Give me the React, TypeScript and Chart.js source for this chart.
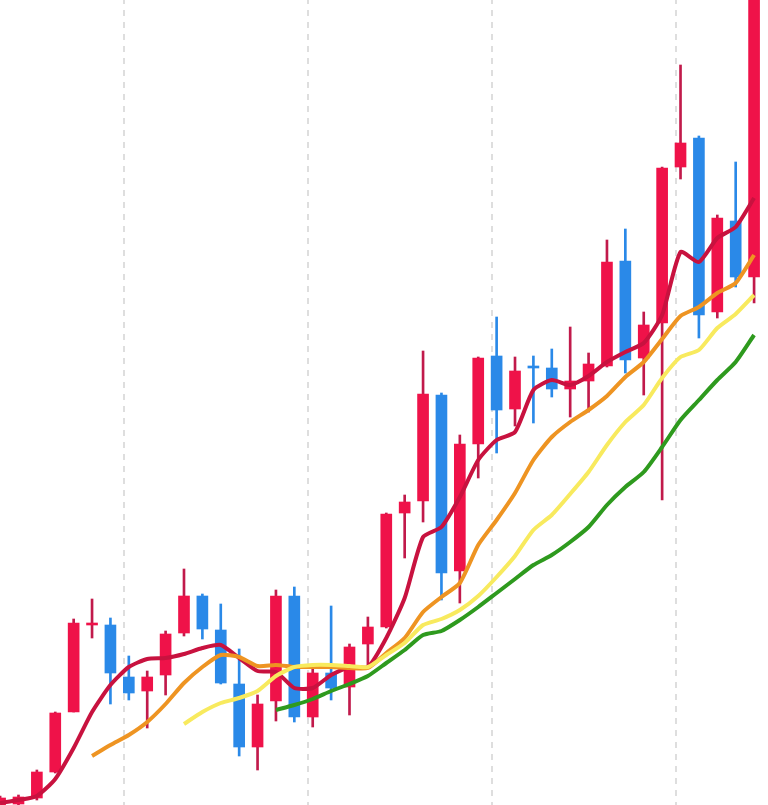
import { useEffect, useRef } from "react";
import { Chart, registerables } from "chart.js";

Chart.register(...registerables);

// Candle data (index = trading day in view)
const OPEN = [9.9, 10.1, 10.7, 13.3, 19.3, 28.0, 28.0, 22.8, 21.4, 23.0, 27.2, 30.9, 27.5, 22.1, 15.8, 20.4, 30.9, 18.8, 23.2, 21.8, 26.1, 27.8, 39.2, 40.4, 51.0, 33.4, 46.1, 54.9, 49.6, 53.9, 53.7, 51.6, 52.4, 53.9, 64.4, 54.7, 58.2, 73.8, 76.7, 59.3, 68.4, 62.8];
const HIGH = [10.9, 11.0, 13.5, 19.3, 28.6, 30.6, 28.7, 24.9, 23.4, 27.4, 33.6, 31.1, 30.1, 25.6, 21.0, 31.5, 31.8, 23.6, 29.9, 26.1, 28.8, 39.2, 41.0, 55.4, 51.2, 47.0, 54.8, 58.8, 54.8, 54.9, 55.6, 57.8, 55.2, 66.5, 67.6, 59.3, 73.8, 84.0, 76.9, 69.0, 74.3, 92.5];
const LOW = [9.8, 10.0, 10.5, 13.2, 19.3, 26.7, 20.1, 20.5, 17.7, 21.0, 26.9, 26.6, 22.1, 14.9, 13.5, 18.4, 18.3, 17.8, 20.5, 19.0, 23.8, 27.7, 34.7, 38.3, 30.5, 30.2, 42.7, 45.2, 47.9, 48.2, 50.8, 48.8, 49.3, 53.8, 53.2, 51.0, 40.5, 72.6, 56.7, 58.7, 61.8, 60.2];
const CLOSE = [10.7, 10.8, 13.3, 19.2, 28.2, 28.2, 23.2, 21.2, 22.8, 27.1, 30.9, 27.6, 22.2, 15.8, 20.1, 30.9, 18.8, 23.2, 21.7, 25.8, 27.8, 39.1, 40.3, 51.1, 33.2, 46.1, 54.7, 49.5, 53.4, 53.7, 51.6, 52.4, 54.1, 64.3, 54.5, 58.0, 73.7, 76.2, 59.0, 68.7, 62.8, 91.5];

// Moving averages (first value belongs to the start index)
const MA5_START = 0;
const MA5 = [10.2, 10.5, 10.9, 12.6, 15.7, 19.3, 22.0, 23.8, 24.6, 24.7, 25.1, 25.7, 26.0, 24.7, 23.4, 23.3, 21.7, 21.7, 23.0, 23.8, 23.8, 26.7, 30.7, 36.8, 37.8, 40.8, 44.5, 46.5, 47.3, 51.5, 52.5, 52.0, 52.9, 54.3, 55.3, 56.2, 59.0, 65.3, 64.3, 66.7, 67.8, 70.7];
const MA10_START = 5;
const MA10 = [14.9, 16.0, 17.0, 18.3, 20.1, 22.2, 23.8, 25.0, 24.8, 23.9, 24.0, 23.8, 23.8, 23.8, 23.7, 23.7, 25.2, 26.7, 29.3, 30.8, 32.2, 36.0, 38.5, 41.2, 44.5, 46.8, 48.3, 49.5, 50.9, 52.8, 54.3, 56.6, 58.9, 59.8, 61.2, 62.2, 65.0];
const MA15_START = 10;
const MA15 = [18.1, 19.3, 20.2, 20.7, 21.4, 22.9, 23.8, 24.0, 24.0, 23.9, 23.8, 25.0, 26.2, 28.0, 28.6, 29.5, 30.9, 32.8, 34.9, 37.5, 39.0, 41.1, 43.3, 46.0, 48.3, 50.0, 52.7, 54.8, 55.5, 57.7, 59.1, 61.0];
const MA20_START = 15;
const MA20 = [19.5, 20.0, 20.6, 21.4, 22.1, 22.9, 24.2, 25.5, 27.0, 27.4, 28.5, 29.8, 31.2, 32.6, 34.0, 35.0, 36.3, 37.8, 40.0, 41.8, 43.3, 45.8, 48.5, 50.5, 52.5, 54.3, 57.0];

const GRID_TICKS = [6.75, 16.75, 26.75, 36.75];
const X_MIN = -0.005;
const X_MAX = 41.757;
const Y_MIN = 10;
const Y_MAX = 90.5;

const UP = "#EF1249";
const UP_WICK = "#C11A4B";
const DOWN = "#2A89E8";

function maPoints(values: number[], start: number) {
  return values.map((v, k) => ({ x: start + k, y: v }));
}

export default function App() {
  const ref = useRef<HTMLCanvasElement | null>(null);

  useEffect(() => {
    if (!ref.current) return;
    const isUp = OPEN.map((o, i) => CLOSE[i] >= o);
    const lineDs = (label: string, data: any[], color: string) => ({
      type: "line" as const,
      label,
      data,
      borderColor: color,
      backgroundColor: color,
      borderWidth: 4,
      pointRadius: 0,
      tension: 0.2,
      fill: false,
      order: 0,
    });
    const chart = new Chart(ref.current, {
      type: "bar",
      data: {
        datasets: [
          {
            type: "bar",
            label: "wick",
            data: OPEN.map((_, i) => ({ x: i, y: [LOW[i], HIGH[i]] })) as any,
            backgroundColor: isUp.map((u) => (u ? UP_WICK : DOWN)),
            barThickness: 2,
            grouped: false,
            order: 2,
          },
          {
            type: "bar",
            label: "body",
            data: OPEN.map((o, i) => ({ x: i, y: [o, CLOSE[i]] })) as any,
            backgroundColor: isUp.map((u) => (u ? UP : DOWN)),
            barThickness: 11,
            grouped: false,
            order: 1,
          },
          lineDs("MA20", maPoints(MA20, MA20_START), "#2E9A1E"),
          lineDs("MA15", maPoints(MA15, MA15_START), "#F8EA5E"),
          lineDs("MA10", maPoints(MA10, MA10_START), "#EE9422"),
          lineDs("MA5", maPoints(MA5, MA5_START), "#C8123F"),
        ] as any,
      },
      options: {
        animation: false,
        responsive: false,
        maintainAspectRatio: false,
        layout: { padding: 0 },
        plugins: { legend: { display: false }, tooltip: { enabled: false } },
        scales: {
          x: {
            type: "linear",
            min: X_MIN,
            max: X_MAX,
            offset: false,
            afterBuildTicks: (scale: any) => {
              scale.ticks = GRID_TICKS.map((v) => ({ value: v }));
            },
            ticks: { display: false },
            grid: {
              display: true,
              offset: false,
              drawTicks: false,
              color: "rgba(0,0,0,0.13)",
              lineWidth: 2,
            },
            border: { display: false, dash: [6, 6], dashOffset: 2 },
          },
          y: {
            type: "linear",
            display: false,
            min: Y_MIN,
            max: Y_MAX,
            beginAtZero: false,
            grid: { display: false },
          },
        },
      } as any,
    });
    return () => chart.destroy();
  }, []);

  return (
    <div style={{ position: "fixed", left: 0, top: 0, width: 768, height: 805, background: "#fff" }}>
      <canvas ref={ref} width={768} height={805} style={{ display: "block" }} />
    </div>
  );
}
